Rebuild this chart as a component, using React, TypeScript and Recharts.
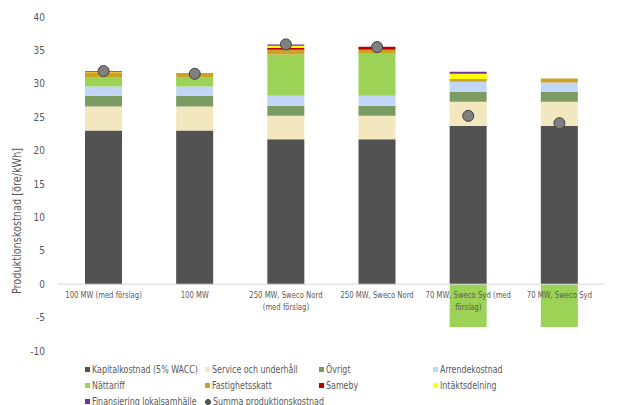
import React from 'react';
import { ComposedChart, Bar, Line, XAxis, YAxis, ReferenceLine, Label } from 'recharts';

const categories = [
  '100 MW (med förslag)',
  '100 MW',
  '250 MW, Sweco Nord (med förslag)',
  '250 MW, Sweco Nord',
  '70 MW, Sweco Syd (med förslag)',
  '70 MW, Sweco Syd',
];
const categoryLines = [
  ['100 MW (med förslag)'],
  ['100 MW'],
  ['250 MW, Sweco Nord', '(med förslag)'],
  ['250 MW, Sweco Nord'],
  ['70 MW, Sweco Syd (med', 'förslag)'],
  ['70 MW, Sweco Syd'],
];

const kapital = [23.0, 23.0, 21.7, 21.7, 23.7, 23.7];
const service = [3.6, 3.6, 3.5, 3.5, 3.6, 3.6];
const ovrigt = [1.6, 1.6, 1.5, 1.5, 1.5, 1.5];
const arrende = [1.4, 1.4, 1.5, 1.5, 1.5, 1.4];
const nattariff = [1.4, 1.4, 6.2, 6.3, -6.4, -6.4];
const fastighetsskatt = [0.6, 0.6, 0.7, 0.6, 0.4, 0.6];
const sameby = [0.1, 0, 0.3, 0.45, 0, 0];
const intaktsdelning = [0.1, 0, 0.3, 0, 0.8, 0];
const finansiering = [0.1, 0, 0.2, 0, 0.3, 0];
const summa = [31.9, 31.5, 35.9, 35.5, 25.2, 24.1];

const yTicks = [-10, -5, 0, 5, 10, 15, 20, 25, 30, 35, 40];
const yDomain: [number, number] = [-10, 40];

const seriesDefs = [
  { key: 'kapital', name: 'Kapitalkostnad (5% WACC)', color: '#525252' },
  { key: 'service', name: 'Service och underhåll', color: '#F2E7BF' },
  { key: 'ovrigt', name: 'Övrigt', color: '#7A9B62' },
  { key: 'arrende', name: 'Arrendekostnad', color: '#C2D6F7' },
  { key: 'nattariff', name: 'Nättariff', color: '#9CD356' },
  { key: 'fastighetsskatt', name: 'Fastighetsskatt', color: '#C9A227' },
  { key: 'sameby', name: 'Sameby', color: '#C00000' },
  { key: 'intaktsdelning', name: 'Intäktsdelning', color: '#FFFF00' },
  { key: 'finansiering', name: 'Finansiering lokalsamhälle', color: '#7030A0' },
];
const summaName = 'Summa produktionskostnad';

const data = categories.map((name, i) => ({
  name,
  kapital: kapital[i],
  service: service[i],
  ovrigt: ovrigt[i],
  arrende: arrende[i],
  nattariff: nattariff[i],
  fastighetsskatt: fastighetsskatt[i],
  sameby: sameby[i],
  intaktsdelning: intaktsdelning[i],
  finansiering: finansiering[i],
  summa: summa[i],
}));

const FONT = "'Liberation Sans Narrow', 'DejaVu Sans Condensed', 'Roboto', sans-serif";
const TEXT = '#595959';
const W = 619;
const H = 405;
const MARGIN = { top: 17, right: 14, bottom: 30, left: 8 };
const X_AXIS_H = 24;
const PLOT_H = H - MARGIN.top - MARGIN.bottom - X_AXIS_H;

const CategoryTick = (props: any) => {
  const { x, payload } = props;
  const idx = categories.indexOf(payload.value);
  const lines = categoryLines[idx] || [payload.value];
  const zeroY = MARGIN.top + ((yDomain[1] - 0) / (yDomain[1] - yDomain[0])) * PLOT_H;
  return (
    <g transform={`translate(${x}, ${zeroY + 14}) scale(0.85, 1)`}>
      <text x={0} y={0} textAnchor="middle" fill={TEXT} fontSize={9} fontFamily={FONT}>
        {lines.map((l: string, i: number) => (
          <tspan key={i} x={0} dy={i === 0 ? 0 : 11.7}>
            {l}
          </tspan>
        ))}
      </text>
    </g>
  );
};

const YTitle = (props: any) => {
  const vb = props.viewBox || {};
  const cx = vb.x + 8.5;
  const cy = vb.y + vb.height / 2 + 37;
  return (
    <g transform={`translate(${cx}, ${cy}) rotate(-90) scale(0.9, 1)`}>
      <text
        x={0}
        y={0}
        textAnchor="middle"
        dominantBaseline="central"
        fill={TEXT}
        fontSize={12}
        fontFamily={FONT}
      >
        Produktionskostnad [öre/kWh]
      </text>
    </g>
  );
};

const legendItems = [
  ...seriesDefs.map((s) => ({ name: s.name, color: s.color, circle: false })),
  { name: summaName, color: '#595959', circle: true },
];

export default function App() {
  return (
    <div style={{ position: 'absolute', left: 0, top: 0, width: W, height: H, overflow: 'hidden', background: '#fff' }}>
      <ComposedChart width={W} height={H} data={data} margin={MARGIN} stackOffset="sign">
        <YAxis
          type="number"
          domain={yDomain}
          ticks={yTicks}
          width={50}
          axisLine={false}
          tickLine={false}
          tickSize={0}
          tickMargin={13}
          interval={0}
          tick={{ fill: TEXT, fontSize: 10, fontFamily: FONT }}
        >
          <Label content={<YTitle />} />
        </YAxis>
        <XAxis
          dataKey="name"
          height={X_AXIS_H}
          axisLine={false}
          tickLine={false}
          interval={0}
          tick={<CategoryTick />}
        />
        <ReferenceLine y={0} stroke="#D9D9D9" strokeWidth={1} />
        {seriesDefs.map((s) => (
          <Bar
            key={s.key}
            dataKey={s.key}
            name={s.name}
            stackId="a"
            fill={s.color}
            barSize={37}
            isAnimationActive={false}
          />
        ))}
        <Line
          dataKey="summa"
          name={summaName}
          stroke="none"
          dot={{ r: 5.5, fill: '#808080', stroke: '#3F3F3F', strokeWidth: 1 }}
          activeDot={false}
          isAnimationActive={false}
        />
      </ComposedChart>
      <div
        style={{
          position: 'absolute',
          left: 85,
          top: 361,
          display: 'grid',
          gridTemplateColumns: '120px 114px 114px auto',
          gridAutoRows: '16.3px',
          fontFamily: FONT,
          fontSize: 10,
          color: TEXT,
        }}
      >
        {legendItems.map((it) => (
          <div key={it.name} style={{ display: 'flex', alignItems: 'center', whiteSpace: 'nowrap' }}>
            <span
              style={{
                display: 'inline-block',
                width: it.circle ? 4 : 5,
                height: it.circle ? 4 : 5,
                flex: '0 0 auto',
                background: it.color,
                borderRadius: it.circle ? '50%' : 0,
                border: it.circle ? '1px solid #3F3F3F' : 'none',
                marginRight: 2,
              }}
            />
            <span style={{ display: 'inline-block', transform: 'scaleX(0.88)', transformOrigin: 'left center' }}>
              {it.name}
            </span>
          </div>
        ))}
      </div>
    </div>
  );
}
